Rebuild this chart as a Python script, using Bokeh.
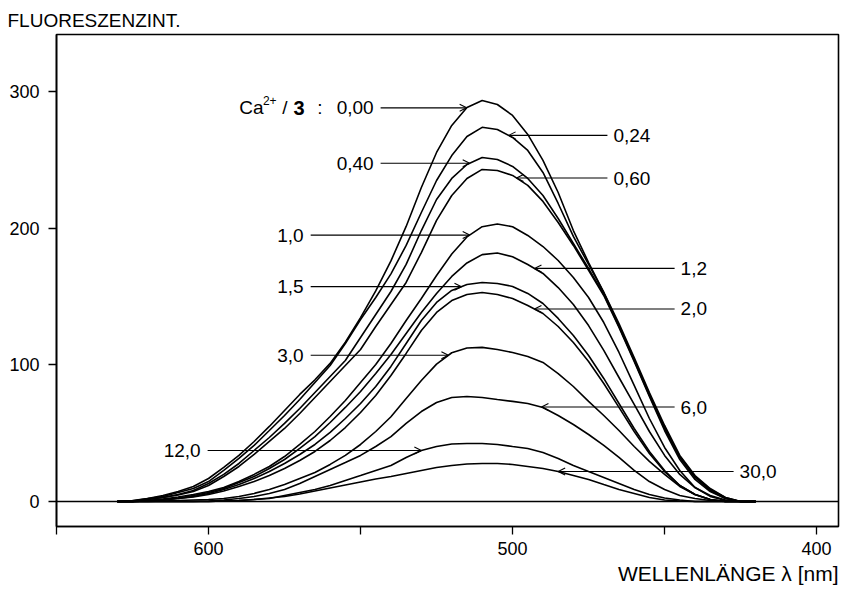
import numpy as np
from bokeh.plotting import figure
from bokeh.models import Range1d, FixedTicker, Span, Label, Arrow, OpenHead, Title
from bokeh.embed import file_html
from bokeh.resources import INLINE

# ---------------- data ----------------
WAVELENGTH_NM = [630, 625, 620, 615, 610, 605, 600, 595, 590, 585, 580, 575, 570, 565,
                 560, 555, 550, 545, 540, 535, 530, 525, 520, 515, 510, 505, 500, 495,
                 490, 485, 480, 475, 470, 465, 460, 455, 450, 445, 440, 435, 430, 425, 420]

CA_RATIO_LABELS = ["0,00", "0,24", "0,40", "0,60", "1,0", "1,2", "1,5", "2,0",
                   "3,0", "6,0", "12,0", "30,0"]

INT_0_00 = [0, 0.7, 2.2, 4.4, 7.3, 11.0, 16.8, 24.9, 33.7, 43.9, 54.9, 66.6, 78.3, 89.0,
            101.0, 116.5, 134.5, 154.0, 176.0, 201.2, 229.7, 255.3, 275.1, 288.2, 293.3, 290.4, 282.4, 268.5,
            249.5, 226.0, 198.2, 174.8, 152.9, 130.2, 105.3, 79.7, 55.6, 33.7, 19.0, 9.5, 2.9, 0, 0]
INT_0_24 = [0, 0.4, 2.2, 3.7, 6.6, 9.5, 14.6, 22.7, 31.5, 41.0, 51.9, 62.9, 74.6, 87.1,
            99.5, 115.6, 133.1, 149.2, 166.5, 187.3, 211.4, 234.8, 253.0, 267.0, 273.7, 272.1, 266.3, 256.8,
            240.7, 218.0, 193.9, 173.4, 152.9, 128.7, 103.9, 78.3, 54.1, 32.9, 18.3, 8.8, 2.9, 0, 0]
INT_0_40 = [0, 0, 1.5, 2.9, 5.1, 8.0, 13.2, 19.8, 27.8, 37.3, 46.8, 57.1, 68.0, 79.7,
            91.4, 103.1, 120.0, 136.8, 153.6, 173.4, 198.2, 220.9, 236.3, 246.5, 251.6, 250.2, 245.1, 236.3,
            223.8, 207.0, 188.7, 170.4, 151.4, 128.0, 103.1, 77.5, 53.4, 32.2, 17.6, 8.0, 2.2, 0, 0]
INT_0_60 = [0, 0, 1.5, 2.9, 4.8, 7.3, 11.7, 18.3, 25.6, 34.4, 43.9, 53.4, 64.4, 76.1,
            87.8, 99.5, 111.2, 128.0, 144.1, 160.2, 182.1, 205.6, 223.8, 236.3, 242.9, 242.1, 238.5, 231.2,
            219.5, 204.1, 187.3, 169.0, 150.7, 127.3, 102.4, 76.8, 51.9, 30.7, 16.1, 7.3, 2.2, 0, 0]
INT_1_0 = [0, 0, 0.7, 1.8, 3.3, 5.1, 7.3, 10.2, 14.6, 19.8, 25.6, 32.9, 41.7, 51.2,
           62.2, 73.9, 87.1, 100.2, 115.6, 132.4, 148.5, 165.3, 181.0, 193.5, 201.0, 203.0, 201.0, 194.6,
           186.5, 176.3, 163.9, 149.2, 130.9, 109.0, 84.9, 60.7, 39.5, 22.7, 10.2, 3.7, 0.7, 0, 0]
INT_1_2 = [0, 0, 0.4, 1.5, 2.6, 4.4, 6.6, 9.5, 13.9, 18.3, 24.1, 30.7, 38.8, 47.5,
           57.8, 68.8, 80.5, 93.6, 107.5, 122.9, 138.3, 152.2, 164.6, 174.5, 180.6, 181.8, 179.0, 173.4,
           166.8, 156.5, 144.1, 128.7, 110.5, 90.7, 71.0, 51.2, 33.7, 19.8, 10.2, 4.4, 1.1, 0, 0]
INT_1_5 = [0, 0, 0.4, 1.1, 2.2, 3.7, 5.9, 8.8, 12.4, 16.8, 21.9, 27.8, 34.4, 41.7,
           50.5, 60.7, 71.7, 84.1, 98.8, 115.6, 132.4, 145.6, 154.4, 158.7, 160.2, 159.5, 157.3, 152.2,
           144.8, 133.9, 121.4, 106.8, 90.0, 71.7, 53.4, 36.6, 22.7, 11.7, 5.1, 1.5, 0, 0, 0]
INT_2_0 = [0, 0, 0.4, 1.1, 2.2, 3.3, 5.1, 7.7, 11.0, 14.6, 19.0, 24.1, 30.0, 36.6,
           44.6, 54.1, 65.1, 77.5, 92.2, 108.3, 125.1, 138.3, 147.0, 151.4, 152.9, 151.4, 148.5, 143.4,
           137.5, 128.0, 116.3, 102.4, 86.3, 68.8, 51.2, 35.1, 21.9, 11.7, 5.1, 1.5, 0, 0, 0]
INT_3_0 = [0, 0, 0, 0.4, 0.7, 1.1, 1.5, 2.2, 3.7, 5.9, 8.8, 12.4, 16.8, 21.2,
           27.1, 33.7, 41.7, 51.2, 62.0, 75.3, 88.5, 100.5, 108.8, 112.3, 112.7, 111.2, 109.0, 106.1,
           101.7, 93.6, 84.1, 73.2, 62.9, 51.9, 40.2, 29.3, 19.8, 11.0, 5.1, 1.5, 0, 0, 0]
INT_6_0 = [0, 0, 0, 0, 0, 0, 0.4, 1.1, 2.2, 3.7, 5.9, 8.8, 13.2, 18.3,
           23.4, 28.5, 33.7, 40.2, 47.5, 57.1, 65.8, 72.4, 76.1, 76.8, 76.1, 74.6, 73.2, 71.7,
           68.8, 62.9, 56.3, 49.0, 41.0, 32.2, 22.7, 14.6, 8.8, 4.4, 2.2, 0.7, 0, 0, 0]
INT_12_0 = [0, 0, 0, 0, 0, 0, 0, 0.4, 0.7, 1.5, 2.2, 4.4, 6.6, 8.8,
            11.7, 15.4, 19.0, 22.7, 26.3, 32.2, 37.3, 40.2, 42.1, 42.4, 42.4, 41.7, 40.2, 38.8,
            35.8, 31.5, 26.3, 21.9, 17.6, 13.2, 8.8, 5.1, 2.6, 1.1, 0, 0, 0, 0, 0]
INT_30_0 = [0, 0, 0, 0, 0, 0, 0, 0.4, 0.7, 1.5, 2.6, 3.7, 5.5, 7.7,
            9.9, 12.1, 14.3, 16.5, 18.3, 20.5, 22.7, 24.9, 26.3, 27.4, 27.8, 27.8, 27.1, 25.6,
            24.1, 21.9, 19.0, 16.1, 12.4, 8.8, 5.9, 2.9, 1.1, 0.4, 0, 0, 0, 0, 0]

SERIES = [INT_0_00, INT_0_24, INT_0_40, INT_0_60, INT_1_0, INT_1_2, INT_1_5, INT_2_0,
          INT_3_0, INT_6_0, INT_12_0, INT_30_0]

X_TICKS = [650, 600, 550, 500, 450, 400]
X_TICK_LABELS = ["", "600", "", "500", "", "400"]
Y_TICKS = [0, 100, 200, 300]

# annotation layout: wavelength where the pointer touches the curve,
# side of the label, and wavelength where the leader line ends
TIP_NM = [515.1, 501.3, 514.1, 498.7, 514.1, 492.8, 516.8, 492.8, 521.1, 490.5, 530.0, 485.0]
LABEL_SIDE = ["left", "right", "left", "right", "left", "right", "left", "right",
              "left", "right", "left", "right"]
LEADER_END_NM = [543.4, 468.8, 543.4, 468.8, 566.4, 446.7, 566.4, 446.7, 566.4, 446.7, 600.3, 427.3]

FONT = "Liberation Sans"

# ---------------- figure ----------------
p = figure(width=842, height=596,
           x_range=Range1d(650, 392.8), y_range=Range1d(-18.3, 341.6),
           output_backend="svg", toolbar_location=None,
           min_border_left=56, min_border_right=4, min_border_top=34, min_border_bottom=70)
p.xgrid.visible = False
p.ygrid.visible = False
p.outline_line_color = "black"
p.outline_line_width = 1.6
p.outline_line_alpha = 1.0
p.background_fill_color = "white"
p.border_fill_color = "white"

p.title.text = "FLUORESZENZINT."
p.title.align = "left"
p.title.offset = -49
p.title.standoff = 8
p.title.text_font = FONT
p.title.text_font_size = "19px"
p.title.text_font_style = "normal"
p.title.text_color = "black"

for ax in (p.xaxis[0], p.yaxis[0]):
    ax.axis_line_color = "black"
    ax.axis_line_width = 1.6
    ax.major_tick_line_color = "black"
    ax.major_tick_line_width = 1.3
    ax.major_tick_in = 0
    ax.major_tick_out = 8
    ax.minor_tick_line_color = None
    ax.major_label_text_font = FONT
    ax.major_label_text_font_size = "18px"
    ax.major_label_text_color = "black"

p.xaxis.ticker = FixedTicker(ticks=X_TICKS)
p.xaxis.major_label_overrides = {t: lab for t, lab in zip(X_TICKS, X_TICK_LABELS)}
p.xaxis.major_label_standoff = 7
p.yaxis.ticker = FixedTicker(ticks=Y_TICKS)
p.yaxis.major_label_standoff = 9

xtitle = Title(text="WELLENLÄNGE λ [nm]", align="right", offset=0, standoff=4,
               text_font=FONT, text_font_size="21px", text_font_style="normal",
               text_color="black")
p.add_layout(xtitle, "below")

p.add_layout(Span(location=0, dimension="width", line_color="black", line_width=1.6))

for vals in SERIES:
    p.line(WAVELENGTH_NM, vals, line_color="black", line_width=1.6)

wl_inc = np.array(WAVELENGTH_NM[::-1], dtype=float)
for i, (lab, vals) in enumerate(zip(CA_RATIO_LABELS, SERIES)):
    tip_x = TIP_NM[i]
    tip_y = float(np.interp(tip_x, wl_inc, np.array(vals[::-1], dtype=float)))
    far_x = LEADER_END_NM[i]
    p.add_layout(Arrow(end=OpenHead(size=7, line_width=1.1, line_color="black"),
                       x_start=far_x, y_start=tip_y, x_end=tip_x, y_end=tip_y,
                       line_color="black", line_width=1.1))
    if LABEL_SIDE[i] == "left":
        p.add_layout(Label(x=far_x, y=tip_y, x_offset=-7, text=lab, text_align="right",
                           text_baseline="middle", text_font=FONT, text_font_size="19px",
                           text_color="black"))
        if i == 0:
            pieces = [(":", -58, "normal", "19px", 0),
                      ("3", -76, "bold", "20px", 0),
                      ("/", -93, "normal", "19px", 0),
                      ("2+", -104, "normal", "12px", 7),
                      ("Ca", -117, "normal", "19px", 0)]
            for txt, off, style, size, yo in pieces:
                p.add_layout(Label(x=far_x, y=tip_y, x_offset=off, y_offset=yo, text=txt,
                                   text_align="right", text_baseline="middle",
                                   text_font=FONT, text_font_size=size,
                                   text_font_style=style, text_color="black"))
    else:
        p.add_layout(Label(x=far_x, y=tip_y, x_offset=6, text=lab, text_align="left",
                           text_baseline="middle", text_font=FONT, text_font_size="19px",
                           text_color="black"))

open("out.html", "w").write(file_html(p, INLINE))
